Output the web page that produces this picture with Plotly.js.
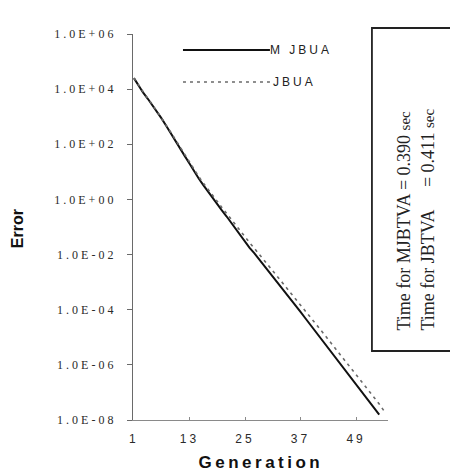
<!DOCTYPE html>
<html>
<head>
<meta charset="utf-8">
<script src="https://cdn.plot.ly/plotly-3.0.1.min.js"></script>
<style>
  html, body { margin: 0; padding: 0; background: #ffffff; }
  #chart { width: 450px; height: 474px; }
  .ytick text { letter-spacing: 3px; }
  .xtick text { letter-spacing: 3px; }
</style>
</head>
<body>
<div id="chart"></div>
<script>
// ---- data ----
const generationsMJBUA = [1,2,3,4,5,6,7,8,9,10,11,12,13,14,15,16,17,18,19,20,21,22,23,24,25,26,27,28,29,30,31,32,33,34,35,36,37,38,39,40,41,42,43,44,45,46,47,48,49,50,51,52,53,54];
const generationsJBUA  = [1,2,3,4,5,6,7,8,9,10,11,12,13,14,15,16,17,18,19,20,21,22,23,24,25,26,27,28,29,30,31,32,33,34,35,36,37,38,39,40,41,42,43,44,45,46,47,48,49,50,51,52,53,54,55];

const errorMJBUA = [2.51e4, 1.32e4, 7.41e3, 4.47e3, 2.63e3, 1.51e3, 8.51e2, 4.57e2, 2.51e2, 1.32e2,
  6.92e1, 3.72e1, 2.00e1, 1.05e1, 5.75, 3.31, 1.91, 1.10, 6.46e-1, 3.98e-1,
  2.45e-1, 1.45e-1, 8.32e-2, 4.79e-2, 2.82e-2, 1.74e-2, 1.12e-2, 6.92e-3, 4.27e-3, 2.63e-3,
  1.62e-3, 1.00e-3, 6.03e-4, 3.55e-4, 2.19e-4, 1.38e-4, 8.32e-5, 5.01e-5, 3.02e-5, 1.82e-5,
  1.10e-5, 6.61e-6, 3.98e-6, 2.40e-6, 1.45e-6, 8.71e-7, 5.25e-7, 3.16e-7, 1.91e-7, 1.15e-7,
  7.08e-8, 4.27e-8, 2.63e-8, 1.58e-8];

const errorJBUA = [2.51e4, 1.38e4, 7.76e3, 4.57e3, 2.75e3, 1.58e3, 8.91e2, 4.90e2, 2.69e2, 1.45e2,
  7.76e1, 4.17e1, 2.29e1, 1.26e1, 6.76, 3.89, 2.29, 1.38, 8.32e-1, 5.13e-1,
  3.16e-1, 1.91e-1, 1.15e-1, 6.92e-2, 4.27e-2, 2.69e-2, 1.70e-2, 1.07e-2, 6.61e-3, 4.07e-3,
  2.57e-3, 1.62e-3, 1.00e-3, 6.17e-4, 3.80e-4, 2.40e-4, 1.51e-4, 9.33e-5, 5.75e-5, 3.55e-5,
  2.19e-5, 1.35e-5, 8.32e-6, 5.13e-6, 3.16e-6, 1.95e-6, 1.20e-6, 7.41e-7, 4.47e-7, 2.75e-7,
  1.66e-7, 1.02e-7, 6.31e-8, 3.80e-8, 2.19e-8];

const seriesNames = ["M JBUA", "JBUA"];
const xTickVals = [1, 13, 25, 37, 49];
const xTickText = ["1", "13", "25", "37", "49"];
const yTickVals = [1e6, 1e4, 1e2, 1e0, 1e-2, 1e-4, 1e-6, 1e-8];
const yTickText = ["1.0E+06", "1.0E+04", "1.0E+02", "1.0E+00", "1.0E-02", "1.0E-04", "1.0E-06", "1.0E-08"];
const boxLines = ["Time for MJBTVA = 0.390 <span style='font-size:15px'>sec</span>",
                  "Time for JBTVA\u00a0\u00a0\u00a0\u00a0 = 0.411 <span style='font-size:15px'>sec</span>"];

// ---- chart ----
const traces = [
  { x: generationsMJBUA, y: errorMJBUA, name: seriesNames[0], type: "scatter", mode: "lines",
    line: { color: "#111111", width: 2 } },
  { x: generationsJBUA, y: errorJBUA, name: seriesNames[1], type: "scatter", mode: "lines",
    line: { color: "#6a6a6a", width: 1.6, dash: "3px,4px" } }
];

const serif = "Liberation Serif, Times New Roman, serif";
const sans = "Liberation Sans, Arial, sans-serif";

const layout = {
  width: 450, height: 474,
  margin: { l: 133, r: 62, t: 34, b: 54, pad: 0 },
  paper_bgcolor: "#ffffff", plot_bgcolor: "#ffffff",
  showlegend: false,
  xaxis: {
    range: [0.8, 55.9], showgrid: false, zeroline: false,
    showline: true, linecolor: "#8a8a8a", linewidth: 1.2,
    ticks: "inside", ticklen: 3, tickcolor: "#8a8a8a",
    tickvals: xTickVals, ticktext: xTickText,
    tickfont: { family: sans, size: 12, color: "#2a2a2a" },
    ticklabelstandoff: 7
  },
  yaxis: {
    type: "log", range: [-8, 6], showgrid: false, zeroline: false,
    showline: true, linecolor: "#6a6a6a", linewidth: 1.2,
    ticks: "outside", ticklen: 5, tickcolor: "#6a6a6a",
    tickvals: yTickVals, ticktext: yTickText,
    tickfont: { family: serif, size: 12, color: "#2a2a2a" },
    ticklabelstandoff: 8
  },
  shapes: [
    { type: "line", xref: "paper", yref: "paper", x0: 0.196, x1: 0.537, y0: 0.9585, y1: 0.9585,
      line: { color: "#111111", width: 2 } },
    { type: "line", xref: "paper", yref: "paper", x0: 0.196, x1: 0.537, y0: 0.8756, y1: 0.8756,
      line: { color: "#6a6a6a", width: 1.6, dash: "3px,4px" } },
    { type: "rect", xref: "paper", yref: "paper", x0: 0.937, x1: 1.27, y0: 0.1788, y1: 1.0155,
      line: { color: "#222222", width: 1.8 }, fillcolor: "rgba(0,0,0,0)" }
  ],
  annotations: [
    { xref: "paper", yref: "paper", x: 0.565, y: 0.9585, xanchor: "left", yanchor: "middle",
      text: seriesNames[0], showarrow: false, font: { family: sans, size: 12, color: "#222222" } },
    { xref: "paper", yref: "paper", x: 0.565, y: 0.8756, xanchor: "left", yanchor: "middle",
      text: seriesNames[1], showarrow: false, font: { family: sans, size: 12, color: "#222222" } },
    { xref: "paper", yref: "paper", x: 1.108, y: 0.518, xanchor: "center", yanchor: "middle",
      text: boxLines.join("<br>"), align: "left", textangle: -90, showarrow: false,
      font: { family: serif, size: 18, color: "#222222" } },
    { xref: "paper", yref: "paper", x: -0.455, y: 0.497, xanchor: "center", yanchor: "middle",
      text: "<b>Error</b>", textangle: -90, showarrow: false,
      font: { family: sans, size: 16, color: "#111111" } },
    { xref: "paper", yref: "paper", x: 0.5, y: -0.111, xanchor: "center", yanchor: "middle",
      text: "<b>Generation</b>", showarrow: false,
      font: { family: sans, size: 17, color: "#111111" } }
  ]
};

Plotly.newPlot("chart", traces, layout, { staticPlot: true, displayModeBar: false }).then(function () {
  // widen letter spacing on legend and x-title text, as in the reference
  document.querySelectorAll(".annotation-text").forEach(function (t) {
    const s = t.textContent;
    if (s === "M JBUA" || s === "JBUA") t.style.letterSpacing = "3px";
    if (s === "Generation") t.style.letterSpacing = "3.5px";
  });
});
</script>
</body>
</html>
